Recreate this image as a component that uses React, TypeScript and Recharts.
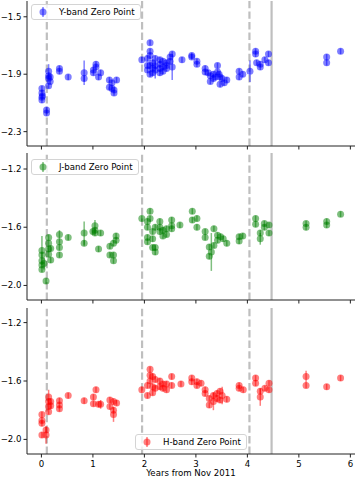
import React from 'react';
import { ScatterChart, Scatter, XAxis, YAxis, ErrorBar, ReferenceLine, Legend } from 'recharts';

const FONT = '"DejaVu Sans", sans-serif';
const FS = 8.6;

const yearTicks = [0, 1, 2, 3, 4, 5, 6];
const xDomain = [-0.28, 6.09];
const dashedEvents = [0.105, 1.955, 4.04];
const solidEvents = [4.47];

const yBandTicks = [-2.3, -1.9, -1.5];
const yBandDomain = [-2.4, -1.39];
const jBandTicks = [-2.0, -1.6, -1.2];
const jBandDomain = [-2.1, -1.09];
const hBandTicks = [-2.0, -1.6, -1.2];
const hBandDomain = [-2.1, -1.1];

// Y band
const yBandYears = [
  0.01, 0.01, 0.01, 0.01, 0.02, 0.1, 0.1, 0.14, 0.14, 0.14, 0.14, 0.17, 0.17, 0.35, 0.35, 0.52,
  0.83, 0.83, 1.01, 1.01, 1.06, 1.06, 1.11, 1.15, 1.32, 1.32, 1.37, 1.37, 1.41, 1.41, 1.46,
  1.95, 2.06, 2.06, 2.06, 2.11, 2.11, 2.11, 2.11, 2.11, 2.16, 2.16, 2.16, 2.21, 2.21, 2.21,
  2.3, 2.3, 2.3, 2.3, 2.36, 2.36, 2.36, 2.43, 2.43, 2.43, 2.5, 2.5, 2.54, 2.54, 2.73,
  2.92, 2.92, 3.02, 3.02, 3.18, 3.18, 3.24, 3.28, 3.28, 3.34, 3.34, 3.38, 3.42, 3.42, 3.45,
  3.47, 3.47, 3.51, 3.55, 3.6, 3.84, 3.84, 3.91, 4.05, 4.16, 4.16, 4.18, 4.25, 4.25, 4.34,
  4.41, 4.41, 5.54, 5.54, 5.81,
];
const yBandValues = [
  -2.0, -2.03, -2.06, -2.08, -2.05, -2.15, -2.17, -1.88, -1.91, -1.93, -1.98, -1.92, -1.95, -1.86, -1.88, -1.92,
  -1.89, -1.93, -1.87, -1.89, -1.83, -1.85, -1.92, -1.89, -1.94, -1.99, -1.96, -2.0, -2.01, -2.03, -1.94,
  -1.8, -1.84, -1.87, -1.79, -1.68, -1.74, -1.77, -1.84, -1.9, -1.82, -1.86, -1.89, -1.79, -1.84, -1.87,
  -1.8, -1.83, -1.86, -1.89, -1.81, -1.85, -1.88, -1.82, -1.86, -1.84, -1.78, -1.81, -1.76, -1.85, -1.8,
  -1.77, -1.78, -1.81, -1.83, -1.86, -1.885, -1.89, -1.91, -1.95, -1.9, -1.93, -1.92, -1.84, -1.885, -1.9,
  -1.92, -1.97, -1.93, -1.96, -1.94, -1.88, -1.92, -1.9, -1.88, -1.74, -1.76, -1.82, -1.83, -1.85, -1.8,
  -1.76, -1.82, -1.78, -1.82, -1.74,
];
const yBandErrors = [
  0.02, 0.02, 0.02, 0.02, 0.02, 0.02, 0.02, 0.05, 0.02, 0.02, 0.02, 0.02, 0.02, 0.02, 0.02, 0.02,
  0.085, 0.02, 0.02, 0.02, 0.02, 0.02, 0.02, 0.02, 0.02, 0.02, 0.02, 0.02, 0.02, 0.02, 0.02,
  0.02, 0.02, 0.02, 0.02, 0.02, 0.02, 0.02, 0.02, 0.02, 0.02, 0.02, 0.02, 0.02, 0.02, 0.06,
  0.02, 0.02, 0.02, 0.02, 0.02, 0.02, 0.02, 0.02, 0.02, 0.02, 0.02, 0.02, 0.02, 0.09, 0.02,
  0.02, 0.02, 0.02, 0.02, 0.02, 0.02, 0.02, 0.02, 0.02, 0.02, 0.02, 0.02, 0.02, 0.02, 0.02,
  0.02, 0.02, 0.02, 0.02, 0.02, 0.02, 0.02, 0.02, 0.075, 0.02, 0.02, 0.02, 0.02, 0.02, 0.02,
  0.02, 0.02, 0.02, 0.02, 0.02,
];

// J band
const jBandYears = [
  0.01, 0.01, 0.01, 0.01, 0.01, 0.05, 0.09, 0.14, 0.14, 0.14, 0.14, 0.18, 0.18, 0.35, 0.35, 0.35, 0.35,
  0.52, 0.83, 0.83, 1.0, 1.04, 1.04, 1.04, 1.11, 1.15, 1.33, 1.33, 1.4, 1.4, 1.4, 1.45, 1.45,
  1.95, 2.06, 2.06, 2.06, 2.06, 2.11, 2.11, 2.16, 2.16, 2.16, 2.21, 2.21, 2.21, 2.3, 2.3, 2.3,
  2.36, 2.36, 2.43, 2.43, 2.53, 2.53, 2.53, 2.69, 2.93, 2.93, 3.02, 3.02, 3.18, 3.18, 3.26, 3.26,
  3.3, 3.35, 3.35, 3.42, 3.42, 3.48, 3.53, 3.6, 3.84, 3.84, 3.91, 4.16, 4.16, 4.25, 4.25,
  4.33, 4.33, 4.42, 4.42, 5.14, 5.14, 5.54, 5.54, 5.81,
];
const jBandValues = [
  -1.76, -1.79, -1.83, -1.86, -1.89, -1.85, -1.97, -1.67, -1.71, -1.75, -1.785, -1.746, -1.826, -1.65, -1.7, -1.74, -1.79,
  -1.67, -1.64, -1.71, -1.63, -1.59, -1.62, -1.64, -1.75, -1.64, -1.73, -1.79, -1.71, -1.79, -1.83, -1.66, -1.69,
  -1.54, -1.56, -1.6, -1.67, -1.7, -1.49, -1.54, -1.63, -1.68, -1.74, -1.77, -1.74, -1.6, -1.56, -1.6, -1.63,
  -1.62, -1.66, -1.61, -1.65, -1.55, -1.59, -1.61, -1.585, -1.49, -1.55, -1.54, -1.6, -1.63, -1.67, -1.735, -1.8,
  -1.77, -1.61, -1.725, -1.655, -1.69, -1.665, -1.68, -1.71, -1.665, -1.695, -1.66, -1.54, -1.58, -1.64, -1.68,
  -1.575, -1.6, -1.585, -1.64, -1.575, -1.6, -1.56, -1.585, -1.51,
];
const jBandErrors = [
  0.1, 0.02, 0.02, 0.02, 0.02, 0.04, 0.02, 0.02, 0.02, 0.02, 0.02, 0.02, 0.02, 0.03, 0.02, 0.02, 0.02,
  0.02, 0.08, 0.02, 0.02, 0.04, 0.02, 0.02, 0.02, 0.02, 0.02, 0.02, 0.02, 0.02, 0.02, 0.02, 0.02,
  0.02, 0.02, 0.02, 0.02, 0.02, 0.02, 0.02, 0.02, 0.02, 0.02, 0.02, 0.02, 0.02, 0.02, 0.02, 0.02,
  0.02, 0.02, 0.02, 0.02, 0.02, 0.02, 0.02, 0.02, 0.02, 0.02, 0.02, 0.02, 0.02, 0.02, 0.02, 0.02,
  0.13, 0.02, 0.02, 0.02, 0.02, 0.02, 0.02, 0.02, 0.02, 0.02, 0.02, 0.02, 0.02, 0.02, 0.04,
  0.02, 0.02, 0.02, 0.02, 0.02, 0.02, 0.02, 0.02, 0.02,
];

// H band
const hBandYears = [
  0.01, 0.01, 0.01, 0.01, 0.09, 0.09, 0.14, 0.14, 0.14, 0.14, 0.18, 0.18, 0.35, 0.35, 0.35,
  0.52, 0.83, 1.01, 1.01, 1.06, 1.11, 1.15, 1.33, 1.33, 1.4, 1.4, 1.4, 1.46,
  1.95, 2.06, 2.06, 2.11, 2.11, 2.11, 2.16, 2.16, 2.16, 2.21, 2.21, 2.3, 2.3, 2.36, 2.36,
  2.43, 2.43, 2.53, 2.53, 2.71, 2.92, 2.92, 3.02, 3.02, 3.1, 3.18, 3.18, 3.26, 3.26,
  3.34, 3.34, 3.41, 3.41, 3.47, 3.47, 3.51, 3.6, 3.84, 3.84, 3.92, 4.16, 4.16, 4.25, 4.25,
  4.34, 4.42, 4.42, 5.14, 5.14, 5.54, 5.81,
];
const hBandValues = [
  -1.83, -1.87, -1.89, -1.97, -1.935, -1.97, -1.71, -1.74, -1.775, -1.81, -1.74, -1.77, -1.735, -1.765, -1.79,
  -1.7, -1.735, -1.71, -1.755, -1.66, -1.76, -1.76, -1.73, -1.775, -1.74, -1.8, -1.83, -1.75,
  -1.66, -1.63, -1.7, -1.52, -1.56, -1.6, -1.57, -1.64, -1.68, -1.59, -1.65, -1.6, -1.64, -1.62, -1.65,
  -1.62, -1.66, -1.57, -1.63, -1.62, -1.58, -1.605, -1.605, -1.63, -1.615, -1.66, -1.685, -1.72, -1.765,
  -1.7, -1.74, -1.685, -1.72, -1.67, -1.73, -1.7, -1.725, -1.63, -1.65, -1.66, -1.58, -1.615, -1.67, -1.71,
  -1.65, -1.615, -1.66, -1.57, -1.63, -1.64, -1.58,
];
const hBandErrors = [
  0.02, 0.02, 0.02, 0.02, 0.02, 0.06, 0.05, 0.02, 0.02, 0.02, 0.02, 0.02, 0.02, 0.02, 0.02,
  0.02, 0.02, 0.02, 0.02, 0.02, 0.02, 0.03, 0.02, 0.02, 0.02, 0.02, 0.05, 0.02,
  0.02, 0.02, 0.02, 0.02, 0.02, 0.02, 0.02, 0.02, 0.02, 0.02, 0.02, 0.02, 0.02, 0.02, 0.02,
  0.02, 0.02, 0.02, 0.02, 0.02, 0.02, 0.02, 0.02, 0.02, 0.02, 0.02, 0.02, 0.02, 0.02,
  0.02, 0.06, 0.02, 0.02, 0.02, 0.02, 0.06, 0.02, 0.02, 0.02, 0.02, 0.02, 0.02, 0.02, 0.06,
  0.02, 0.02, 0.02, 0.04, 0.02, 0.02, 0.02,
];

const build = (xs: number[], ys: number[], es: number[]) =>
  xs.map((x, i) => ({ x, y: ys[i], e: es[i] }));

const fmt = (v: number) => v.toFixed(1).replace('-', '\u2212');

const legendContent = (color: string, label: string) => () => (
  <div
    style={{
      border: '1px solid #d4d4d4',
      borderRadius: 3,
      background: 'rgba(255,255,255,0.8)',
      height: 14,
      display: 'flex',
      alignItems: 'center',
      fontFamily: FONT,
      fontSize: FS,
      color: '#000',
      padding: '0 5px 0 0',
      whiteSpace: 'nowrap',
    }}
  >
    <svg width={27} height={14} style={{ display: 'block' }}>
      <line x1={11} x2={11} y1={2} y2={12} stroke={color} strokeOpacity={0.5} strokeWidth={1.5} />
      <circle cx={11} cy={7} r={3.5} fill={color} fillOpacity={0.5} />
    </svg>
    <span>{label}</span>
  </div>
);

type PanelProps = {
  top: number;
  height: number;
  axisHeight: number;
  showLabels: boolean;
  data: { x: number; y: number; e: number }[];
  color: string;
  label: string;
  ticks: number[];
  domain: number[];
  legendLeft: number;
  legendTop: number;
};

function Panel(p: PanelProps) {
  return (
    <div style={{ position: 'absolute', left: 0, top: p.top, width: 356, height: p.height }}>
      <ScatterChart width={356} height={p.height} margin={{ top: 1, right: 1, bottom: 0, left: 0 }}>
        <XAxis
          dataKey="x"
          type="number"
          domain={xDomain}
          ticks={yearTicks}
          interval={0}
          allowDataOverflow
          height={p.axisHeight}
          tickSize={3.5}
          tickMargin={3.5}
          tickLine={{ stroke: '#222' }}
          axisLine={{ stroke: '#222' }}
          tick={{ fontSize: FS, fill: '#000', fontFamily: FONT }}
          tickFormatter={p.showLabels ? (v: number) => String(v) : () => ''}
          label={
            p.showLabels
              ? { value: 'Years from Nov 2011', position: 'insideBottom', offset: 3, fontSize: FS, fill: '#000', fontFamily: FONT }
              : undefined
          }
        />
        <XAxis
          xAxisId="top"
          orientation="top"
          type="number"
          domain={xDomain}
          height={0}
          tick={false}
          tickLine={false}
          axisLine={{ stroke: '#222' }}
        />
        <YAxis
          dataKey="y"
          type="number"
          domain={p.domain}
          ticks={p.ticks}
          interval={0}
          allowDataOverflow
          width={27}
          tickSize={3.5}
          tickMargin={2}
          tickLine={{ stroke: '#222' }}
          axisLine={{ stroke: '#222' }}
          tick={{ fontSize: FS, fill: '#000', fontFamily: FONT }}
          tickFormatter={fmt}
        />
        <YAxis
          yAxisId="right"
          orientation="right"
          type="number"
          domain={p.domain}
          width={0}
          tick={false}
          tickLine={false}
          axisLine={{ stroke: '#222' }}
        />
        {dashedEvents.map((v) => (
          <ReferenceLine key={'d' + v} x={v} stroke="#bfbfbf" strokeWidth={2.2} strokeDasharray="7.4 3.2" />
        ))}
        {solidEvents.map((v) => (
          <ReferenceLine key={'s' + v} x={v} stroke="#bfbfbf" strokeWidth={2.2} />
        ))}
        <Scatter
          data={p.data}
          fill={p.color}
          isAnimationActive={false}
          shape={(s: any) => <circle cx={s.cx} cy={s.cy} r={3.5} fill={p.color} fillOpacity={0.5} />}
        >
          <ErrorBar dataKey="e" direction="y" width={0} stroke={p.color} strokeOpacity={0.5} strokeWidth={1.5} />
        </Scatter>
        <Legend
          layout="vertical"
          align="center"
          verticalAlign="middle"
          content={legendContent(p.color, p.label)}
          wrapperStyle={{ left: p.legendLeft, top: p.legendTop, width: 'auto', height: 'auto' }}
        />
      </ScatterChart>
    </div>
  );
}

export default function App() {
  return (
    <div style={{ position: 'absolute', left: 0, top: 0, width: 356, height: 479, background: '#fff' }}>
      <Panel
        top={0}
        height={150}
        axisHeight={4}
        showLabels={false}
        data={build(yBandYears, yBandValues, yBandErrors)}
        color="#0000ff"
        label="Y-band Zero Point"
        ticks={yBandTicks}
        domain={yBandDomain}
        legendLeft={31}
        legendTop={4}
      />
      <Panel
        top={152}
        height={152}
        axisHeight={4}
        showLabels={false}
        data={build(jBandYears, jBandValues, jBandErrors)}
        color="#008000"
        label="J-band Zero Point"
        ticks={jBandTicks}
        domain={jBandDomain}
        legendLeft={31}
        legendTop={7}
      />
      <Panel
        top={307}
        height={172}
        axisHeight={25}
        showLabels={true}
        data={build(hBandYears, hBandValues, hBandErrors)}
        color="#ff0000"
        label="H-band Zero Point"
        ticks={hBandTicks}
        domain={hBandDomain}
        legendLeft={135}
        legendTop={127}
      />
    </div>
  );
}
